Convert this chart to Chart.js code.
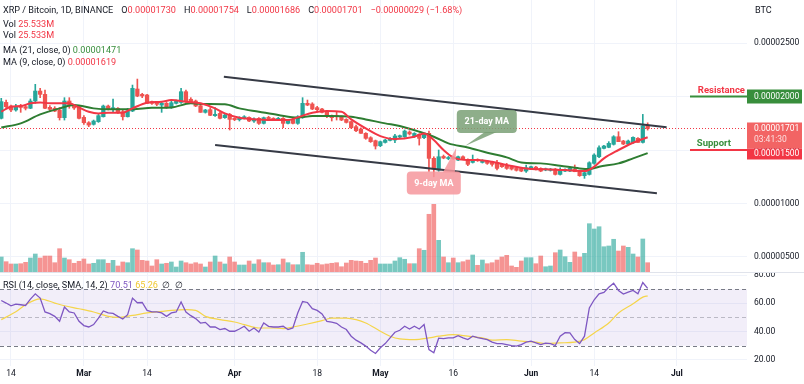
<!DOCTYPE html>
<html>
<head>
<meta charset="utf-8">
<script src="https://cdn.jsdelivr.net/npm/chart.js@4.4.1/dist/chart.umd.min.js"></script>
<style>
  body { margin: 0; background: #fff; }
  #wrap { position: relative; width: 804px; height: 384px; overflow: hidden; font-family: Roboto, "Liberation Sans", sans-serif; color: #131722; }
  canvas { position: absolute; left: 0; }
  .txt { position: absolute; left: 3px; font-size: 9.1px; line-height: 11px; white-space: pre; }
  .txt span.k { margin-left: 8px; }
  .r { color: #f23645; }
  .g { color: #388e3c; }
  .p { color: #7e57c2; }
  .y { color: #f0c830; }
  #sep { position: absolute; left: 0; top: 272px; width: 804px; height: 1px; background: #e0e3eb; }
</style>
</head>
<body>
<div id="wrap">
  <canvas id="price" width="804" height="272" style="top:0"></canvas>
  <canvas id="rsi" width="804" height="112" style="top:272px"></canvas>
  <div id="sep"></div>
  <div class="txt" style="top:5px">XRP / Bitcoin, 1D, BINANCE<span class="k">O<span class="r">0.00001730</span></span><span class="k">H<span class="r">0.00001754</span></span><span class="k">L<span class="r">0.00001686</span></span><span class="k">C<span class="r">0.00001701</span></span><span class="k r">−0.00000029 (−1.68%)</span></div>
  <div class="txt" style="top:19px">Vol <span class="r">25.533M</span></div>
  <div class="txt" style="top:30px">Vol <span class="r">25.533M</span></div>
  <div class="txt" style="top:45px">MA (21, close, 0) <span class="g">0.00001471</span></div>
  <div class="txt" style="top:57px">MA (9, close, 0) <span class="r">0.00001619</span></div>
  <div class="txt" style="top:5px; left:755px">BTC</div>
  <div class="txt" style="top:280px">RSI (14, close, SMA, 14, 2) <span class="p">70.51</span> <span class="y">65.26</span>  ∅  ∅</div>
</div>
<script>
const FONT = 'Roboto, "Liberation Sans", sans-serif';

// days counted from Feb 14 (day 0), one candle per day
const firstDay = -2;
const tickDays = [0, 15, 28, 46, 63, 76, 91, 107, 120, 137];
const tickLabels = ["14", "Mar", "14", "Apr", "18", "May", "16", "Jun", "14", "Jul"];

// prices in satoshi (1e-8 BTC)
const opens = [
  1796, 1945, 1911, 1874, 1908, 1905, 1890, 1958, 2051, 2020,
  1899, 1890, 1874, 1802, 1958, 1914, 1905, 1805, 1755, 1740,
  1765, 1811, 1911, 1880, 1890, 1858, 1811, 1864, 2070, 2020,
  2014, 1952, 1942, 1920, 1936, 1896, 1936, 1945, 2045, 1974,
  1958, 1914, 1852, 1877, 1821, 1842, 1802, 1833, 1796, 1783,
  1796, 1805, 1771, 1796, 1749, 1805, 1796, 1780, 1796, 1749,
  1786, 1749, 1802, 1936, 1930, 1896, 1883, 1852, 1818, 1821,
  1811, 1786, 1765, 1718, 1696, 1656, 1615, 1587, 1540, 1571,
  1590, 1593, 1621, 1624, 1668, 1625, 1646, 1615, 1656, 1422,
  1312, 1440, 1420, 1431, 1406, 1437, 1406, 1384, 1412, 1384,
  1397, 1384, 1384, 1366, 1353, 1338, 1328, 1328, 1303, 1322,
  1340, 1328, 1313, 1310, 1322, 1272, 1303, 1303, 1319, 1303,
  1260, 1272, 1375, 1437, 1515, 1525, 1553, 1624, 1584, 1556,
  1568, 1609, 1571, 1730
];
const highs = [
  1983, 1967, 1920, 1927, 1927, 1920, 1977, 2114, 2076, 2061,
  1914, 1905, 1896, 1989, 1989, 1927, 1914, 1821, 1765, 1780,
  1833, 1920, 1920, 1977, 1896, 1874, 1889, 2107, 2163, 2030,
  2020, 1958, 1952, 1952, 1945, 1967, 1967, 2076, 2061, 1989,
  1967, 1927, 1880, 1896, 1896, 1852, 1833, 1842, 1802, 1811,
  1821, 1811, 1800, 1802, 1808, 1815, 1802, 1805, 1802, 1786,
  1793, 1821, 1989, 1967, 1942, 1908, 1889, 1864, 1827, 1858,
  1818, 1793, 1771, 1733, 1708, 1662, 1624, 1593, 1584, 1600,
  1615, 1646, 1640, 1687, 1680, 1662, 1652, 1655, 1677, 1437,
  1500, 1453, 1440, 1440, 1443, 1446, 1418, 1453, 1418, 1409,
  1403, 1390, 1403, 1372, 1375, 1344, 1334, 1334, 1359, 1350,
  1347, 1334, 1331, 1328, 1328, 1334, 1325, 1334, 1360, 1310,
  1297, 1390, 1465, 1540, 1543, 1578, 1634, 1671, 1590, 1593,
  1624, 1615, 1833, 1754
];
const lows = [
  1790, 1889, 1858, 1864, 1852, 1874, 1886, 1936, 1989, 1886,
  1864, 1858, 1780, 1780, 1890, 1880, 1790, 1740, 1718, 1733,
  1758, 1808, 1874, 1858, 1842, 1780, 1808, 1858, 1998, 1989,
  1936, 1927, 1914, 1852, 1889, 1889, 1930, 1936, 1945, 1945,
  1905, 1852, 1845, 1821, 1815, 1790, 1796, 1687, 1774, 1771,
  1790, 1765, 1758, 1740, 1743, 1780, 1774, 1774, 1708, 1743,
  1743, 1740, 1796, 1914, 1877, 1864, 1846, 1802, 1771, 1780,
  1774, 1752, 1702, 1671, 1656, 1600, 1571, 1509, 1531, 1565,
  1584, 1568, 1615, 1618, 1640, 1618, 1546, 1606, 1300, 1250,
  1300, 1418, 1409, 1412, 1400, 1409, 1353, 1378, 1393, 1378,
  1366, 1350, 1313, 1338, 1319, 1313, 1303, 1297, 1291, 1316,
  1313, 1297, 1306, 1303, 1266, 1266, 1297, 1297, 1297, 1254,
  1235, 1266, 1366, 1428, 1509, 1521, 1546, 1578, 1550, 1550,
  1562, 1568, 1565, 1686
];
const closes = [
  1952, 1905, 1874, 1905, 1898, 1890, 1958, 2051, 2020, 1890,
  1880, 1864, 1802, 1958, 1914, 1893, 1796, 1755, 1733, 1771,
  1821, 1911, 1880, 1895, 1852, 1811, 1864, 2076, 2004, 2005,
  1936, 1936, 1927, 1936, 1896, 1942, 1958, 2045, 1952, 1952,
  1911, 1852, 1874, 1824, 1833, 1796, 1827, 1786, 1783, 1802,
  1811, 1771, 1790, 1749, 1802, 1786, 1780, 1796, 1749, 1780,
  1749, 1811, 1936, 1920, 1883, 1877, 1852, 1821, 1802, 1811,
  1780, 1758, 1708, 1680, 1656, 1609, 1578, 1537, 1578, 1593,
  1609, 1631, 1634, 1677, 1650, 1655, 1609, 1646, 1422, 1322,
  1437, 1425, 1430, 1420, 1437, 1415, 1366, 1406, 1400, 1403,
  1375, 1366, 1328, 1344, 1328, 1322, 1310, 1303, 1334, 1344,
  1320, 1303, 1325, 1322, 1272, 1313, 1319, 1328, 1297, 1260,
  1288, 1381, 1453, 1521, 1537, 1562, 1624, 1578, 1556, 1584,
  1618, 1571, 1727, 1701
];
// volume in millions
const volumes = [
  41.2, 28.3, 22.0, 22.0, 22.8, 26.6, 38.4, 49.4, 38.4, 43.9,
  43.9, 25.5, 64.0, 38.4, 33.8, 23.9, 29.4, 35.7, 22.0, 23.9,
  33.8, 33.8, 23.9, 32.1, 16.5, 27.5, 25.5, 64.0, 60.4, 32.1,
  30.2, 16.5, 33.8, 22.0, 23.9, 27.5, 13.7, 30.2, 25.5, 22.0,
  25.5, 22.0, 13.7, 27.5, 43.9, 27.5, 22.0, 41.2, 27.5, 19.2,
  19.2, 30.2, 22.0, 33.8, 25.5, 25.5, 19.2, 20.0, 35.7, 25.5,
  20.0, 20.0, 54.1, 20.0, 19.2, 23.9, 20.0, 22.0, 23.9, 25.5,
  14.5, 24.7, 32.1, 30.2, 29.4, 23.9, 32.1, 38.4, 22.0, 22.0,
  22.0, 30.2, 39.3, 34.9, 22.8, 22.8, 64.0, 59.6, 158.4, 185.8,
  87.0, 41.2, 25.5, 38.4, 25.5, 28.3, 32.9, 46.7, 18.4, 32.9,
  22.8, 25.5, 32.9, 41.2, 45.8, 16.5, 12.9, 30.2, 39.3, 39.3,
  22.8, 43.9, 14.5, 16.5, 53.0, 60.4, 42.0, 26.6, 54.9, 41.2,
  51.3, 132.6, 118.0, 124.3, 69.4, 71.4, 89.8, 57.6, 71.4, 67.8,
  49.4, 41.2, 90.6, 25.533
];
const rsi = [
  62.0, 60.2, 58.3, 59.5, 59.0, 58.5, 63.0, 66.7, 63.7, 53.9,
  52.7, 50.8, 47.3, 57.4, 53.9, 53.2, 47.3, 44.3, 43.3, 45.0,
  49.6, 54.6, 53.2, 52.9, 50.8, 48.9, 52.0, 63.7, 60.4, 60.6,
  55.0, 53.9, 53.9, 53.2, 50.8, 53.2, 53.9, 60.9, 53.9, 51.3,
  49.2, 46.1, 46.6, 43.3, 43.3, 41.5, 42.2, 40.3, 40.3, 41.9,
  43.8, 40.3, 42.6, 39.8, 46.1, 43.8, 43.3, 43.3, 43.8, 41.5,
  42.6, 53.2, 61.3, 60.6, 56.2, 55.0, 52.5, 47.3, 46.8, 45.9,
  43.3, 41.5, 36.8, 34.0, 32.1, 29.8, 26.9, 24.6, 28.6, 31.6,
  35.6, 39.6, 41.0, 43.8, 41.9, 43.8, 41.9, 45.0, 27.4, 25.1,
  35.4, 35.1, 35.6, 35.6, 37.2, 35.6, 34.4, 36.8, 35.8, 35.1,
  34.4, 32.6, 31.6, 31.6, 30.9, 30.2, 29.8, 30.9, 32.6, 33.3,
  32.1, 30.9, 31.9, 31.6, 30.2, 36.8, 39.3, 39.1, 34.4, 31.6,
  36.8, 56.7, 62.5, 66.7, 67.7, 71.4, 74.2, 69.1, 66.5, 67.9,
  69.1, 66.7, 74.7, 70.51
];
// [day, value]
const ma21 = [
  [-2, 1711], [2, 1749], [6, 1833], [10, 1889], [13, 1920], [17, 1889], [20, 1880], [25, 1880],
  [29, 1895], [33, 1898], [37, 1936], [40, 1930], [44, 1927], [47, 1889], [51, 1858], [55, 1827],
  [59, 1802], [62, 1817], [66, 1817], [70, 1811], [73, 1786], [77, 1749], [80, 1724], [84, 1671],
  [87, 1624], [90, 1562], [94, 1524], [98, 1475], [102, 1431], [105, 1384], [109, 1375], [113, 1353],
  [117, 1328], [119, 1322], [121, 1344], [125, 1375], [128, 1422], [131, 1471]
];
const ma9 = [
  [-2, 1858], [0, 1905], [2, 1911], [4, 1936], [6, 1945], [8, 1936], [10, 1936], [12, 1936],
  [14, 1898], [16, 1858], [18, 1842], [20, 1849], [23, 1849], [25, 1889], [28, 1942], [31, 1951],
  [33, 1967], [36, 1951], [39, 1936], [42, 1889], [44, 1842], [47, 1802], [51, 1786], [54, 1780],
  [57, 1780], [59, 1805], [62, 1849], [65, 1864], [68, 1858], [70, 1786], [73, 1702], [76, 1630],
  [79, 1602], [83, 1624], [85, 1655], [87, 1593], [89, 1500], [91, 1431], [94, 1406], [96, 1406],
  [99, 1390], [102, 1359], [106, 1328], [110, 1319], [114, 1313], [118, 1303], [120, 1344],
  [122, 1422], [125, 1500], [128, 1568], [131, 1619]
];
const rsiSma = [
  [-2, 48.5], [1, 54.0], [3, 59.0], [6, 63.2], [9, 60.2], [11, 58.3], [14, 56.2], [17, 53.9],
  [20, 50.8], [22, 50.1], [25, 51.5], [28, 53.2], [31, 54.3], [33, 55.0], [36, 55.5], [38, 55.0],
  [40, 50.8], [43, 48.5], [46, 46.8], [48, 45.0], [51, 42.6], [54, 42.6], [56, 42.2], [58, 43.3],
  [61, 45.4], [64, 47.8], [66, 49.6], [69, 49.6], [71, 48.5], [73, 46.1], [76, 40.3], [78, 36.8],
  [80, 34.9], [83, 34.4], [86, 35.6], [88, 36.8], [91, 37.9], [94, 36.8], [97, 35.6], [99, 34.0],
  [102, 34.4], [105, 33.3], [108, 32.6], [110, 31.6], [113, 32.1], [116, 32.6], [118, 34.4],
  [120, 39.1], [123, 46.1], [125, 53.2], [128, 59.7], [130, 64.4], [131, 65.26]
];
// trend channel drawn on the chart
const upperChannel = [[43.8, 2185], [134.9, 1712]];
const lowerChannel = [[42.0, 1546], [132.9, 1095]];

const priceTicks = [500, 1000, 1500, 2000, 2500];
const rsiTicks = [20, 40, 60, 80];
const rsiLevels = [70, 50, 30];
const resistance = 2000;
const support = 1500;
const countdown = "03:41:30";

const UP = "#26a69a";
const DOWN = "#ef5350";

const days = closes.map((c, i) => firstDay + i);
const candleColors = closes.map((c, i) => (c >= opens[i] ? UP : DOWN));
const volColors = closes.map((c, i) => (c >= opens[i] ? "rgba(38,166,154,0.62)" : "rgba(239,83,80,0.62)"));
const pts = (arr) => arr.map(([d, v]) => ({ x: d, y: v }));
const fmt = (v) => (v / 1e8).toFixed(8);

// keep the plot area flush with the canvas edges
const noPad = (s) => { s.paddingTop = 0; s.paddingBottom = 0; s.paddingLeft = 0; s.paddingRight = 0; };

const xAxis = (labels) => ({
  type: "linear",
  min: -2.26,
  max: 151.44,
  offset: false,
  grid: { color: "#f0f3fa", drawTicks: false, offset: false },
  border: { display: false },
  afterBuildTicks: (s) => { s.ticks = tickDays.map((v) => ({ value: v })); },
  afterFit: (s) => { s.height = labels ? 18 : 0; noPad(s); },
  ticks: {
    display: labels,
    autoSkip: false,
    maxRotation: 0,
    padding: 3,
    color: "#131722",
    callback: (v, i) => tickLabels[i],
    font: (c) => ({ family: FONT, size: 8.5, weight: isNaN(+tickLabels[c.index]) ? "bold" : "normal" }),
  },
});

const yAxis = (min, max, ticks, cb) => ({
  position: "right",
  min: min,
  max: max,
  grid: { color: "#f0f3fa", drawTicks: false },
  border: { display: false },
  afterBuildTicks: (s) => { s.ticks = ticks.map((v) => ({ value: v })); },
  afterFit: (s) => { s.width = 57; noPad(s); },
  ticks: { color: "#131722", padding: 7, font: { family: FONT, size: 8.5 }, callback: cb },
});

function roundRect(ctx, x, y, w, h, r) {
  ctx.beginPath();
  ctx.moveTo(x + r, y);
  ctx.lineTo(x + w - r, y);
  ctx.quadraticCurveTo(x + w, y, x + w, y + r);
  ctx.lineTo(x + w, y + h - r);
  ctx.quadraticCurveTo(x + w, y + h, x + w - r, y + h);
  ctx.lineTo(x + r, y + h);
  ctx.quadraticCurveTo(x, y + h, x, y + h - r);
  ctx.lineTo(x, y + r);
  ctx.quadraticCurveTo(x, y, x + r, y);
  ctx.closePath();
}

const callouts = [
  { text: "21-day MA", day: 97.9, price: 1766, w: 60, h: 23, tipDay: 93.4, tipPrice: 1537, base: [-2, 10], fill: "rgba(122,160,118,0.85)" },
  { text: "9-day MA", day: 87.0, price: 1191, w: 54, h: 23, tipDay: 91.6, tipPrice: 1518, base: [9, 21], fill: "rgba(246,150,156,0.85)" },
];

const overlay = {
  id: "overlay",
  afterDatasetsDraw(chart) {
    const { ctx, chartArea: a, scales: { x, y } } = chart;
    const last = closes[closes.length - 1];
    ctx.save();

    // last price dotted line
    const ly = Math.round(y.getPixelForValue(last)) + 0.5;
    ctx.strokeStyle = "#f23645";
    ctx.lineWidth = 1;
    ctx.setLineDash([1, 2]);
    ctx.beginPath();
    ctx.moveTo(a.left, ly);
    ctx.lineTo(a.right, ly);
    ctx.stroke();
    ctx.setLineDash([]);

    // callouts
    ctx.font = "bold 9px " + FONT;
    ctx.textAlign = "center";
    ctx.textBaseline = "middle";
    callouts.forEach((c) => {
      const cx = x.getPixelForValue(c.day);
      const cy = y.getPixelForValue(c.price);
      const tx = x.getPixelForValue(c.tipDay);
      const ty = y.getPixelForValue(c.tipPrice);
      ctx.fillStyle = c.fill;
      const edge = ty > cy ? cy + c.h / 2 - 1 : cy - c.h / 2 + 1;
      ctx.beginPath();
      ctx.moveTo(cx + c.base[0], edge);
      ctx.lineTo(tx, ty);
      ctx.lineTo(cx + c.base[1], edge);
      ctx.closePath();
      ctx.fill();
      roundRect(ctx, cx - c.w / 2, cy - c.h / 2, c.w, c.h, 4);
      ctx.fill();
      ctx.fillStyle = "#ffffff";
      ctx.fillText(c.text, cx, cy + 0.5);
    });

    // resistance / support marks
    const ry = y.getPixelForValue(resistance);
    const sy = y.getPixelForValue(support);
    ctx.lineWidth = 2;
    ctx.strokeStyle = "#388e3c";
    ctx.beginPath();
    ctx.moveTo(a.right - 57, ry);
    ctx.lineTo(a.right, ry);
    ctx.stroke();
    ctx.strokeStyle = "#f23645";
    ctx.beginPath();
    ctx.moveTo(a.right - 57, sy);
    ctx.lineTo(a.right, sy);
    ctx.stroke();
    ctx.font = "bold 9.5px " + FONT;
    ctx.textAlign = "right";
    ctx.textBaseline = "alphabetic";
    ctx.fillStyle = "#f23645";
    ctx.fillText("Resistance", a.right - 2, ry - 4);
    ctx.fillStyle = "#388e3c";
    ctx.fillText("Support", a.right - 16, sy - 4);

    // price labels on the axis
    const bx = a.right;
    const bw = chart.width - a.right - 2;
    ctx.font = "8.5px " + FONT;
    ctx.textAlign = "left";
    ctx.textBaseline = "middle";
    ctx.fillStyle = "#388e3c";
    ctx.fillRect(bx, ry - 7, bw, 14);
    ctx.fillStyle = "#ffffff";
    ctx.fillText(fmt(resistance), bx + 7, ry);

    const top = y.getPixelForValue(last) - 6;
    ctx.fillStyle = "#f26464";
    ctx.fillRect(bx, top, bw, 26);
    ctx.fillStyle = "#ffffff";
    ctx.fillText(fmt(last), bx + 7, top + 6.5);
    ctx.fillStyle = "rgba(255,255,255,0.8)";
    ctx.fillText(countdown, bx + 7, top + 17.5);

    const stop = Math.max(sy - 7, top + 26);
    ctx.fillStyle = "#f23645";
    ctx.fillRect(bx, stop, bw, 11);
    ctx.fillStyle = "#ffffff";
    ctx.fillText(fmt(support), bx + 7, stop + 5.5);
    ctx.restore();
  },
};

new Chart(document.getElementById("price"), {
  type: "bar",
  data: {
    datasets: [
      { type: "line", data: pts(upperChannel), borderColor: "#363a45", borderWidth: 2, pointRadius: 0 },
      { type: "line", data: pts(lowerChannel), borderColor: "#363a45", borderWidth: 2, pointRadius: 0 },
      { type: "line", data: pts(ma9), borderColor: "#f23645", borderWidth: 2, pointRadius: 0, cubicInterpolationMode: "monotone" },
      { type: "line", data: pts(ma21), borderColor: "#2e7d32", borderWidth: 2, pointRadius: 0, cubicInterpolationMode: "monotone" },
      { data: days.map((d, i) => ({ x: d, y: [opens[i], closes[i]] })), backgroundColor: candleColors, barThickness: 3.6, minBarLength: 1, grouped: false },
      { data: days.map((d, i) => ({ x: d, y: [lows[i], highs[i]] })), backgroundColor: candleColors, barThickness: 1, grouped: false },
      { data: days.map((d, i) => ({ x: d, y: volumes[i] })), backgroundColor: volColors, barThickness: 4, grouped: false, yAxisID: "yv" },
    ],
  },
  options: {
    responsive: false,
    animation: false,
    events: [],
    layout: { padding: 0, autoPadding: false },
    plugins: { legend: { display: false }, tooltip: { enabled: false } },
    scales: {
      x: xAxis(false),
      y: yAxis(359.8, 2901.9, priceTicks, (v) => fmt(v)),
      yv: { display: false, min: 0, max: 746.6 },
    },
  },
  plugins: [overlay],
});

const rsiBand = {
  id: "rsiBand",
  beforeDatasetsDraw(chart) {
    const { ctx, chartArea: a, scales: { y } } = chart;
    ctx.save();
    const y1 = y.getPixelForValue(rsiLevels[0]);
    const y2 = y.getPixelForValue(rsiLevels[2]);
    ctx.fillStyle = "rgba(126,87,194,0.1)";
    ctx.fillRect(a.left, y1, a.right - a.left, y2 - y1);
    ctx.setLineDash([4, 3]);
    ctx.lineWidth = 1;
    rsiLevels.forEach((lv, i) => {
      const py = Math.round(y.getPixelForValue(lv)) + 0.5;
      ctx.strokeStyle = i === 1 ? "rgba(120,123,134,0.45)" : "#787b86";
      ctx.beginPath();
      ctx.moveTo(a.left, py);
      ctx.lineTo(a.right, py);
      ctx.stroke();
    });
    ctx.restore();
  },
};

new Chart(document.getElementById("rsi"), {
  type: "line",
  data: {
    datasets: [
      { data: days.map((d, i) => ({ x: d, y: rsi[i] })), borderColor: "#7e57c2", borderWidth: 1.3, pointRadius: 0 },
      { data: pts(rsiSma), borderColor: "#f5d54a", borderWidth: 1.2, pointRadius: 0, cubicInterpolationMode: "monotone" },
    ],
  },
  options: {
    responsive: false,
    animation: false,
    events: [],
    layout: { padding: 0, autoPadding: false },
    plugins: { legend: { display: false }, tooltip: { enabled: false } },
    scales: {
      x: xAxis(true),
      y: yAxis(15.76, 82.12, rsiTicks, (v) => v.toFixed(2)),
    },
  },
  plugins: [rsiBand],
});
</script>
</body>
</html>
